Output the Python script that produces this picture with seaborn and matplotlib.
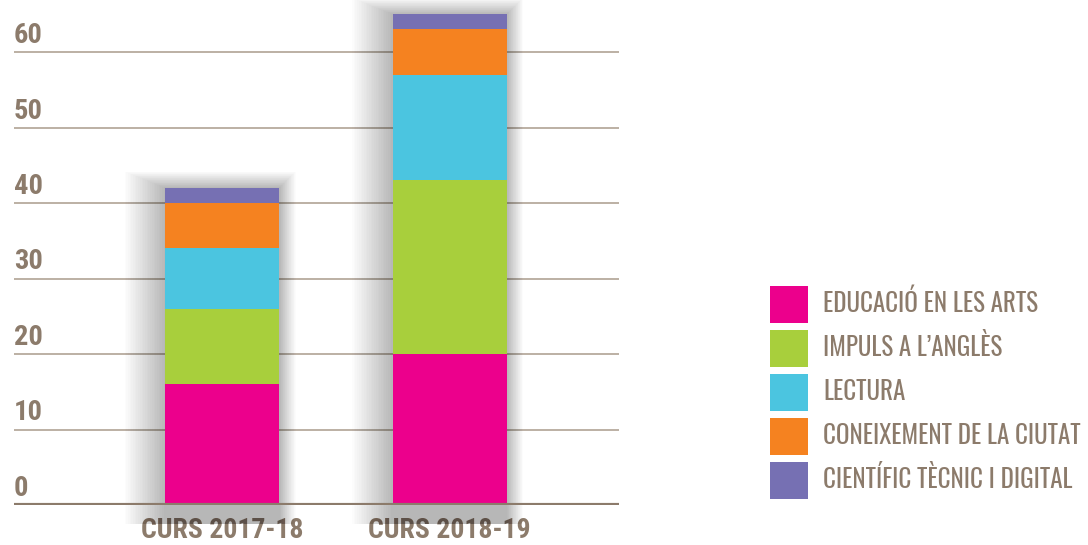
import numpy as np
import pandas as pd
import matplotlib
matplotlib.use("Agg")
import matplotlib.pyplot as plt
import seaborn as sns
from matplotlib.patches import Rectangle, Patch
from matplotlib import font_manager as fm

# ---- data ----
courses = ["CURS 2017-18", "CURS 2018-19"]
programs = ["EDUCACIÓ EN LES ARTS", "IMPULS A L’ANGLÈS", "LECTURA",
            "CONEIXEMENT DE LA CIUTAT", "CIENTÍFIC TÈCNIC I DIGITAL"]
educacio_arts = [16, 20]
impuls_angles = [10, 23]
lectura = [8, 14]
coneixement_ciutat = [6, 6]
cientific_tecnic = [2, 2]
y_ticks = [0, 10, 20, 30, 40, 50, 60]

colors = ["#EC008C", "#A8CF3C", "#4BC5E0", "#F58220", "#7670B3"]
text_color = "#8C7B6B"

weights = {}
for f in fm.fontManager.ttflist:
    w = f.weight if isinstance(f.weight, int) else 400
    weights.setdefault(f.name, set()).add(w)

def pick(cands, min_weight=0):
    for c in cands:
        if c in weights and max(weights[c]) >= min_weight:
            return c
    return "DejaVu Sans"

font_bold = pick(["Oswald", "Roboto Condensed", "Asap Condensed", "Antonio",
                  "Archivo Narrow", "Liberation Sans Narrow"], min_weight=600)
font_light = pick(["Oswald", "Roboto Condensed", "Asap Condensed", "Archivo Narrow",
                   "Liberation Sans Narrow"])

series = [educacio_arts, impuls_angles, lectura, coneixement_ciutat, cientific_tecnic]
rows = []
for prog, vals in zip(programs, series):
    for c, v in zip(courses, vals):
        rows.append({"curs": c, "programa": prog, "valor": v})
df = pd.DataFrame(rows)
df["inici"] = df.groupby("curs")["valor"].cumsum() - df["valor"]

sns.set_theme(style="white")
plt.rcParams["font.family"] = [font_bold, "DejaVu Sans"]

fig = plt.figure(figsize=(10.88, 5.45), dpi=100)
ax = fig.add_axes([14 / 1088, 1 - 505 / 545, (619 - 14) / 1088, 505 / 545])

# soft shadows behind the stacked bars (derived from totals)
totals = df.groupby("curs", sort=False)["valor"].sum()
bw = 0.5
for i, c in enumerate(courses):
    tot = totals[c]
    for k in range(24):
        grow_l = 0.0075 * (k + 1)
        grow_r = 0.003 * (k + 1)
        grow_t = 0.09 * (k + 1)
        ax.add_patch(Rectangle((i - bw / 2 - grow_l, -2.5), bw + grow_l + grow_r,
                               tot + 2.5 + grow_t, facecolor="black", alpha=0.011,
                               edgecolor="none", zorder=1.5, clip_on=False))

# stacked bars via seaborn, one layer per program
for prog, col in zip(programs, colors):
    sub = df[df["programa"] == prog]
    sns.barplot(data=sub, x="curs", y="valor", bottom=sub["inici"].values,
                color=col, width=bw, ax=ax, order=courses,
                saturation=1, linewidth=0, zorder=3)

ax.set_xlim(-0.916, 1.744)
ax.set_ylim(0, 66.9)
ax.set_yticks(y_ticks)
ax.yaxis.grid(True, color="#BCB0A4", linewidth=1.4, zorder=1)
ax.set_axisbelow(True)
for s in ["top", "right", "left", "bottom"]:
    ax.spines[s].set_visible(False)
ax.axhline(0, color=text_color, linewidth=3, zorder=4)

ax.set_yticklabels([])
ax.tick_params(axis="y", length=0)
for t in y_ticks:
    ax.text(0.0, t + 1.2, str(t), transform=ax.get_yaxis_transform(),
            ha="left", va="baseline", fontsize=20.5, fontweight="bold",
            family=font_bold, color=text_color)

ax.set_xlabel("")
ax.set_ylabel("")
ax.tick_params(axis="x", length=0, pad=9, colors=text_color)
for lab in ax.get_xticklabels():
    lab.set_fontsize(20)
    lab.set_fontweight("bold")
    lab.set_family(font_bold)
    lab.set_color(text_color)

handles = [Patch(facecolor=c, edgecolor="none") for c in colors]
leg = fig.legend(handles, programs, loc="upper left",
                 bbox_to_anchor=(770 / 1088, 1 - 286 / 545),
                 frameon=False, prop={"family": font_light, "size": 18, "weight": "light"},
                 handlelength=1.52, handleheight=1.9, borderaxespad=0,
                 handletextpad=0.6, labelspacing=0.28, borderpad=0)
for t in leg.get_texts():
    t.set_color(text_color)

fig.savefig("out.png", dpi=100, facecolor="white")
